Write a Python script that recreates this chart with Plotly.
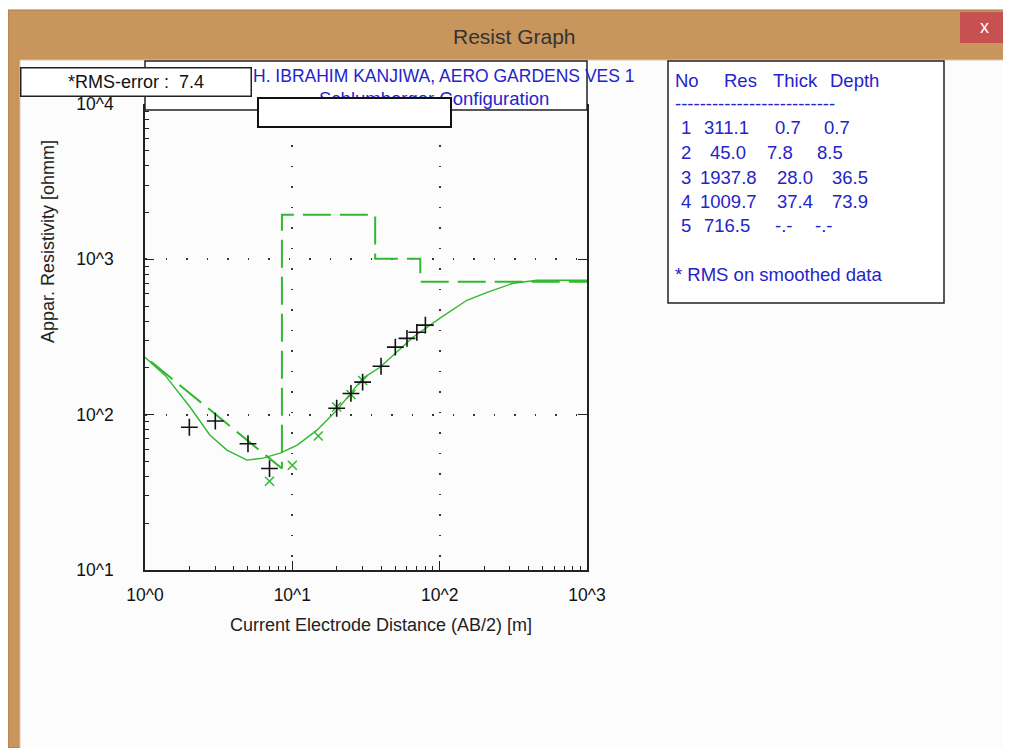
import plotly.graph_objects as go

# ---------------- data ----------------
# model (calculated) apparent resistivity curve
ab2_model = [1, 1.37, 2.02, 2.76, 3.6, 4.92, 6.32, 8.25, 10.8, 14.7, 20.1, 30.2,
             39.4, 65.9, 100.6, 153, 210, 315, 458, 1000]
rho_model = [234, 179, 112, 73.8, 59.1, 51, 52.5, 56.5, 63.7, 79.5, 107, 172,
             202, 315, 418, 545, 613, 701, 733, 733]

# observed field data (+)
ab2_obs = [2, 3, 5, 7, 20, 25, 30, 40, 50, 60, 70, 80]
rho_obs = [83, 91, 65, 45, 110, 137, 162, 205, 272, 310, 339, 377]

# smoothed data (x)
ab2_smooth = [7, 10, 15, 20, 25, 30]
rho_smooth = [37.3, 47.3, 72.8, 112, 135, 166]

# layered model
layer_no = [1, 2, 3, 4, 5]
layer_res = [311.1, 45.0, 1937.8, 1009.7, 716.5]
layer_thick = [0.7, 7.8, 28.0, 37.4]
layer_depth = [0.7, 8.5, 36.5, 73.9]
x_max = 1000

rms_error = 7.4
x_tickvals = [1, 10, 100, 1000]
x_ticktext = ["10^0", "10^1", "10^2", "10^3"]
y_tickvals = [10, 100, 1000, 10000]
y_ticktext = ["10^1", "10^2", "10^3", "10^4"]

# ---------------- style ----------------
# the page body has an 8px margin; the figure is sized to fit the window
OX, OY = 8, 8
W, H = 1003, 740
GREEN = "#30b830"
BLUE = "#2424c8"
TAN = "#c8955c"
FONT = "Arial, Liberation Sans, sans-serif"


def X(px):
    return (px - OX) / W


def Y(py):
    return 1 - (py - OY) / H


# line of the layer model (as drawn by the program)
step_x = [layer_depth[0], layer_depth[1]]
step_y = [layer_res[0], layer_res[1]]
for i in range(1, len(layer_depth)):
    nxt = layer_depth[i + 1] if i + 1 < len(layer_depth) else x_max
    step_x += [layer_depth[i], nxt]
    step_y += [layer_res[i + 1], layer_res[i + 1]]

fig = go.Figure()
fig.add_trace(go.Scatter(x=step_x, y=step_y, mode="lines",
                         line=dict(color=GREEN, width=2, dash="28px,9px"),
                         hoverinfo="skip"))
fig.add_trace(go.Scatter(x=ab2_model, y=rho_model, mode="lines",
                         line=dict(color=GREEN, width=1.4), hoverinfo="skip"))
fig.add_trace(go.Scatter(x=ab2_smooth, y=rho_smooth, mode="markers",
                         marker=dict(symbol="x-thin", size=9,
                                     line=dict(color=GREEN, width=1.5))))
fig.add_trace(go.Scatter(x=ab2_obs, y=rho_obs, mode="markers",
                         marker=dict(symbol="cross-thin", size=12,
                                     line=dict(color="#111111", width=1.6))))
fig.add_trace(go.Scatter(x=[1], y=[10], xaxis="x2", yaxis="y2", mode="markers",
                         marker=dict(opacity=0), hoverinfo="skip"))

xdom = [X(145), X(587)]
ydom = [Y(570), Y(104)]
axis_common = dict(type="log", showgrid=False, zeroline=False, automargin=False,
                   linecolor="#222222", linewidth=1.5)

fig.update_layout(
    width=W, height=H, autosize=False,
    margin=dict(l=0, r=0, t=0, b=0, pad=0, autoexpand=False),
    paper_bgcolor=TAN, plot_bgcolor="white",
    showlegend=False,
    font=dict(family=FONT, color="#222222"),
    xaxis=dict(axis_common, domain=xdom, range=[0, 3], anchor="y",
               dtick="D1", ticks="inside", ticklen=4, tickcolor="#222222",
               showticklabels=False, showline=True),
    yaxis=dict(axis_common, domain=ydom, range=[1, 4], anchor="x",
               dtick="D1", ticks="inside", ticklen=4, tickcolor="#222222",
               showticklabels=False, showline=True),
    xaxis2=dict(axis_common, overlaying="x", range=[0, 3], anchor="y2",
                tickmode="array", tickvals=x_tickvals, ticktext=x_ticktext,
                ticks="inside", ticklen=9, tickcolor="#222222",
                showgrid=True, gridcolor="#333333", gridwidth=1.8,
                griddash="1.5px,19px", showline=False,
                ticklabelstandoff=12,
                tickfont=dict(size=17.5, color="#111111")),
    yaxis2=dict(axis_common, overlaying="y", range=[1, 4], anchor="x2",
                tickmode="array", tickvals=y_tickvals, ticktext=y_ticktext,
                ticks="inside", ticklen=9, tickcolor="#222222",
                showgrid=True, gridcolor="#333333", gridwidth=1.8,
                griddash="1.5px,19px", showline=True, mirror="ticks",
                ticklabelstandoff=26,
                tickfont=dict(size=17.5, color="#111111")),
)

shapes = [
    # white strip above window
    dict(type="rect", xref="paper", yref="paper", x0=0, x1=1, y0=Y(10), y1=1,
         fillcolor="white", line=dict(width=0), layer="below"),
    dict(type="rect", xref="paper", yref="paper", x0=X(8), x1=X(1011), y0=0, y1=Y(10),
         fillcolor="rgba(0,0,0,0)", line=dict(color="#a77945", width=1), layer="below"),
    # client area
    dict(type="rect", xref="paper", yref="paper", x0=X(20), x1=X(1006), y0=Y(750), y1=Y(60),
         fillcolor="#fcfcfc", line=dict(color="#d9c3a5", width=1), layer="below"),
    # close button
    dict(type="rect", xref="paper", yref="paper", x0=X(960), x1=X(1007), y0=Y(43), y1=Y(12),
         fillcolor="#c75050", line=dict(width=0), layer="above"),
    # title box
    dict(type="rect", xref="paper", yref="paper", x0=X(145), x1=X(587), y0=Y(110), y1=Y(61),
         fillcolor="white", line=dict(color="#222222", width=1.5), layer="above"),
    # table box
    dict(type="rect", xref="paper", yref="paper", x0=X(668), x1=X(944), y0=Y(303), y1=Y(61),
         fillcolor="white", line=dict(color="#222222", width=1.5), layer="above"),
]
fig.update_layout(shapes=shapes)

NB = "\u00a0"
ann = []


def add_text(px, py, text, size=18, color="#222222", xanchor="center", **kw):
    ann.append(dict(x=X(px), y=Y(py), xref="paper", yref="paper", text=text,
                    showarrow=False, xanchor=xanchor, yanchor="middle",
                    font=dict(family=FONT, size=size, color=color), **kw))


# window title & close
add_text(514, 36, "Resist Graph", size=21, color="#333333")
add_text(984, 27, "x", size=18, color="white")

# chart title
add_text(637, 76, "H. IBRAHIM KANJIWA, AERO GARDENS VES 1", size=17.5, color=BLUE, xanchor="right")
add_text(551, 99, "Schlumberger Configuration", size=18.5, color=BLUE, xanchor="right")

# axis titles
add_text(381, 625, "Current Electrode Distance (AB/2) [m]", size=18)
add_text(48, 242, "Appar. Resistivity [ohmm]", size=18, textangle=-90)

# table
add_text(673, 80, "No", size=18.5, color=BLUE, xanchor="left")
add_text(722, 80, "Res", size=18.5, color=BLUE, xanchor="left")
add_text(771, 80, "Thick", size=18.5, color=BLUE, xanchor="left")
add_text(828, 80, "Depth", size=18.5, color=BLUE, xanchor="left")
add_text(673, 103, "-" * 26, size=18.5, color=BLUE, xanchor="left")
res_x = [702, 708, 698, 698, 702]
thick_x = [773, 765, 775, 775, 773]
depth_x = [822, 815, 830, 830, 813]
row_y = [127, 152, 177, 201, 225]
for i, n in enumerate(layer_no):
    add_text(679, row_y[i], str(n), size=18.5, color=BLUE, xanchor="left")
    add_text(res_x[i], row_y[i], f"{layer_res[i]:.1f}", size=18.5, color=BLUE, xanchor="left")
    t = f"{layer_thick[i]:.1f}" if i < len(layer_thick) else "-.-"
    d = f"{layer_depth[i]:.1f}" if i < len(layer_depth) else "-.-"
    add_text(thick_x[i], row_y[i], t, size=18.5, color=BLUE, xanchor="left")
    add_text(depth_x[i], row_y[i], d, size=18.5, color=BLUE, xanchor="left")
add_text(673, 274, "* RMS on smoothed data", size=18.5, color=BLUE, xanchor="left")

# RMS box and blank box (drawn over title text)
ann.append(dict(x=X(136), y=Y(82), xref="paper", yref="paper",
                text=f"*RMS-error :{NB}{NB}{rms_error}", showarrow=False,
                xanchor="center", yanchor="middle", width=229, height=27,
                bgcolor="white", bordercolor="#222222", borderwidth=1.5, borderpad=0,
                font=dict(family=FONT, size=18, color="#111111")))
ann.append(dict(x=X(354), y=Y(112), xref="paper", yref="paper",
                text=NB, showarrow=False,
                xanchor="center", yanchor="middle", width=191, height=27,
                bgcolor="white", bordercolor="#111111", borderwidth=2, borderpad=0,
                font=dict(family=FONT, size=18)))

fig.update_layout(annotations=ann)
fig.write_html("out.html")
